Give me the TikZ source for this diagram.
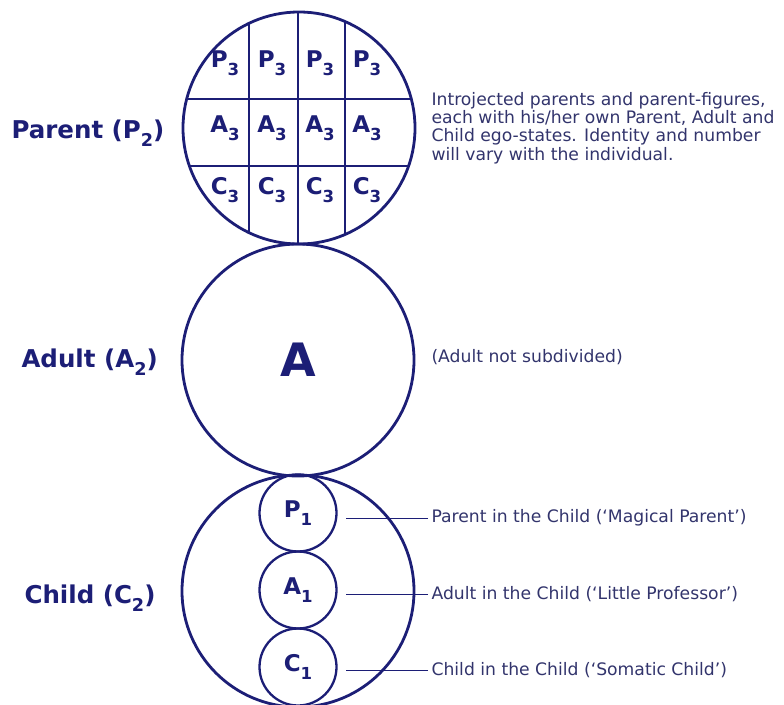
\documentclass[tikz,border=0pt]{standalone}
\usepackage{fontspec}
\setmainfont{DejaVu Sans}
\newfontfamily\notefont{DejaVu Sans}
\usetikzlibrary{positioning, calc}
\definecolor{egoblue}{RGB}{28,30,118}
\definecolor{notegray}{RGB}{50,52,108}
\newcommand{\lowsub}[1]{\raisebox{-0.35em}{\scalebox{0.72}{#1}}}
\tikzset{
    ego/.style={circle, draw=egoblue, line width=2.8pt, minimum size=232pt, inner sep=0pt},
    subego/.style={circle, draw=egoblue, line width=2.3pt, minimum size=77pt, inner sep=0pt,
        text=egoblue, font=\bfseries\fontsize{23}{23}\selectfont},
    cell/.style={text=egoblue, font=\bfseries\fontsize{23}{23}\selectfont},
    cellline/.style={draw=egoblue, line width=1.1pt},
    side/.style={anchor=west, text=egoblue, font=\bfseries\fontsize{24.5}{24.5}\selectfont},
    note/.style={anchor=west, align=left, text=notegray, font=\notefont\fontsize{17.2}{18.4}\selectfont},
    leader/.style={draw=egoblue, line width=0.9pt}
}
\begin{document}
\begin{tikzpicture}[x=1pt, y=-1pt]
    \useasboundingbox (0,0) rectangle (784,704);

    % Ego-state circles
    \node [ego] (parent) at (299,128) {};
    \node [ego] (adult) at (298,360) {};
    \node [ego] (child) at (298,591) {};

    % Parent split into introjected P/A/C
    \begin{scope}
        \clip (parent.center) circle (116pt);
        \foreach \x in {249,298,345}
            \draw [cellline] (\x,0) -- (\x,260);
        \foreach \y in {99,166}
            \draw [cellline] (170,\y) -- (430,\y);
    \end{scope}
    \foreach \l/\y in {P/63, A/128, C/190}
        \foreach \x [count=\i] in {225,272,320,367}
            \node [cell] (\l\i) at (\x,\y) {\l\lowsub{3}};

    \node [text=egoblue, font=\bfseries\fontsize{46}{46}\selectfont] (bigA) at (adult.center) {A};

    % Child split into P1/A1/C1
    \node [subego] (p1) at (298,513) {P\lowsub{1}};
    \node [subego, below=-2.3pt of p1] (a1) {A\lowsub{1}};
    \node [subego, below=-2.3pt of a1] (c1) {C\lowsub{1}};

    % Labels
    \node [side] (plab) at (8,133) {Parent (P\lowsub{2})};
    \node [side] (alab) at (18,362) {Adult (A\lowsub{2})};
    \node [side] (clab) at (21,598) {Child (C\lowsub{2})};

    \node [note] (pnote) at (428,128) {Introjected parents and parent-figures,\\
        each with his/her own Parent, Adult and\\
        Child ego-states. Identity and number\\
        will vary with the individual.};
    \node [note] (anote) at (428,357) {(Adult not subdivided)};

    \node [note] (p1note) at (428,518) {Parent in the Child (‘Magical Parent’)};
    \node [note] (a1note) at (428,594) {Adult in the Child (‘Little Professor’)};
    \node [note] (c1note) at (428,670) {Child in the Child (‘Somatic Child’)};

    \draw [leader, shorten >=8pt] (p1note.west) -- (p1note.west -| p1.east);
    \draw [leader, shorten >=8pt] (a1note.west) -- (a1note.west -| a1.east);
    \draw [leader, shorten >=8pt] (c1note.west) -- (c1note.west -| c1.east);
\end{tikzpicture}
\end{document}
